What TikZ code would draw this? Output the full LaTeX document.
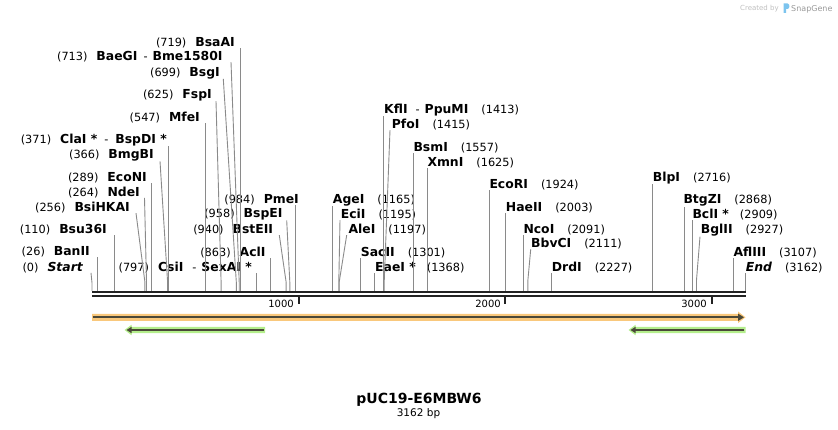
\documentclass[tikz,border=0pt]{standalone}
\usepackage{fontspec}
\setmainfont{DejaVu Sans}
\usetikzlibrary{arrows.meta}
\definecolor{cutgray}{HTML}{8A8A8A}
\definecolor{seqblack}{HTML}{222222}
\definecolor{featorange}{HTML}{F9C87C}
\definecolor{featgreen}{HTML}{B4EE8C}
\definecolor{featcore}{HTML}{4A4838}
\definecolor{snapblue}{HTML}{7CC4EE}
\newcommand{\ename}[1]{{\fontsize{12.4}{14}\selectfont\bfseries #1}}

\begin{document}
\begin{tikzpicture}[x=1pt, y=-1pt,
  site/.style={inner sep=0pt, font=\fontsize{11.3}{13}\selectfont},
  leftsite/.style={site, anchor=base east},
  rightsite/.style={site, anchor=base west},
  cutline/.style={draw=cutgray, line width=0.9pt},
  ruler/.style={inner sep=0pt, anchor=base east, font=\fontsize{10}{12}\selectfont}]
\useasboundingbox (0,0) rectangle (838,430);

% watermark
\path (740,10.3) node[anchor=base west, inner sep=0pt, text=black!25, font=\fontsize{7}{8}\selectfont] (createdby) {Created by};
\fill[snapblue] (783.5,3.5) -- (787.5,3.5) .. controls (790,3.5) and (790,9) .. (787.5,9) -- (786,9) -- (786,13) -- (783.5,13) -- cycle;
\path (791,11.2) node[anchor=base west, inner sep=0pt, text=black!40, font=\fontsize{8}{9}\selectfont] (snapgene) {SnapGene};

% sequence
\draw[seqblack, line width=2.3pt] (92,292.2) -- (745.5,292.2);
\draw[seqblack, line width=2.3pt] (92,296.3) -- (745.5,296.3);
\draw[seqblack, line width=2pt] (298.5,297.5) -- (298.5,304.5);
\draw[seqblack, line width=2pt] (505.2,297.5) -- (505.2,304.5);
\draw[seqblack, line width=2pt] (711.7,297.5) -- (711.7,304.5);
\path (294,307.3) node[ruler] (tick1000) {1000};
\path (501,307.3) node[ruler] (tick2000) {2000};
\path (707,307.3) node[ruler] (tick3000) {3000};

% cut sites
\coordinate (Startcut) at (92,291);
\coordinate (BanIIcut) at (97.4,291);
\coordinate (Bsu36Icut) at (114.7,291);
\coordinate (BsiHKAIcut) at (144.9,291);
\coordinate (NdeIcut) at (146.5,291);
\coordinate (EcoNIcut) at (151.7,291);
\coordinate (BmgBIcut) at (167.6,291);
\coordinate (ClaIcut) at (168.6,291);
\coordinate (MfeIcut) at (205,291);
\coordinate (FspIcut) at (221.1,291);
\coordinate (BsgIcut) at (236.3,291);
\coordinate (BaeGIcut) at (239.2,291);
\coordinate (BsaAIcut) at (240.5,291);
\coordinate (CsiIcut) at (256.6,291);
\coordinate (AclIcut) at (270.2,291);
\coordinate (BstEIIcut) at (286.1,291);
\coordinate (BspEIcut) at (289.8,291);
\coordinate (PmeIcut) at (295.2,291);
\coordinate (AgeIcut) at (332.6,291);
\coordinate (EciIcut) at (338.8,291);
\coordinate (AleIcut) at (339.2,291);
\coordinate (SacIIcut) at (360.7,291);
\coordinate (EaeIcut) at (374.5,291);
\coordinate (KflIcut) at (383.8,291);
\coordinate (PfoIcut) at (384.2,291);
\coordinate (BsmIcut) at (413.5,291);
\coordinate (XmnIcut) at (427.6,291);
\coordinate (EcoRIcut) at (489.3,291);
\coordinate (HaeIIcut) at (505.6,291);
\coordinate (NcoIcut) at (523.8,291);
\coordinate (BbvCIcut) at (527.9,291);
\coordinate (DrdIcut) at (551.9,291);
\coordinate (BlpIcut) at (652.9,291);
\coordinate (BtgZIcut) at (684.3,291);
\coordinate (BclIcut) at (692.7,291);
\coordinate (BglIIcut) at (696.5,291);
\coordinate (AflIIIcut) at (733.6,291);
\coordinate (Endcut) at (745,291);

% labels left of the line
\path (83,271.1) node[leftsite] (Start) {(0)\hspace{9pt}\ename{\itshape Start}};
\path (90,255.4) node[leftsite] (BanII) {(26)\hspace{9pt}\ename{BanII}};
\path (107,233.4) node[leftsite] (Bsu36I) {(110)\hspace{9pt}\ename{Bsu36I}};
\path (130,211.4) node[leftsite] (BsiHKAI) {(256)\hspace{9pt}\ename{BsiHKAI}};
\path (140,196.1) node[leftsite] (NdeI) {(264)\hspace{9pt}\ename{NdeI}};
\path (147,181.1) node[leftsite] (EcoNI) {(289)\hspace{9pt}\ename{EcoNI}};
\path (154,158.4) node[leftsite] (BmgBI) {(366)\hspace{9pt}\ename{BmgBI}};
\path (167,143.4) node[leftsite] (ClaI) {(371)\hspace{9pt}\ename{ClaI *}\hspace{7pt}-\hspace{7pt}\ename{BspDI *}};
\path (200,121.7) node[leftsite] (MfeI) {(547)\hspace{9pt}\ename{MfeI}};
\path (212,98.4) node[leftsite] (FspI) {(625)\hspace{9pt}\ename{FspI}};
\path (220,76.1) node[leftsite] (BsgI) {(699)\hspace{9pt}\ename{BsgI}};
\path (222.7,60.4) node[leftsite] (BaeGI) {(713)\hspace{9pt}\ename{BaeGI}\hspace{6pt}-\hspace{5pt}\ename{Bme1580I}};
\path (235,46.7) node[leftsite] (BsaAI) {(719)\hspace{9pt}\ename{BsaAI}};
\path (252,271.1) node[leftsite] (CsiI) {(797)\hspace{9pt}\ename{CsiI}\hspace{9pt}-\hspace{5pt}\ename{SexAI *}};
\path (265.7,256.1) node[leftsite] (AclI) {(863)\hspace{9pt}\ename{AclI}};
\path (273.3,233.4) node[leftsite] (BstEII) {(940)\hspace{9pt}\ename{BstEII}};
\path (282.7,217.7) node[leftsite] (BspEI) {(958)\hspace{9pt}\ename{BspEI}};
\path (299,203.4) node[leftsite] (PmeI) {(984)\hspace{9pt}\ename{PmeI}};

% labels right of the line
\path (332.7,203.4) node[rightsite] (AgeI) {\ename{AgeI}\hspace{13pt}(1165)};
\path (340.7,218.4) node[rightsite] (EciI) {\ename{EciI}\hspace{13pt}(1195)};
\path (348.3,233.4) node[rightsite] (AleI) {\ename{AleI}\hspace{13pt}(1197)};
\path (360.7,256.4) node[rightsite] (SacII) {\ename{SacII}\hspace{13pt}(1301)};
\path (375,271.1) node[rightsite] (EaeI) {\ename{EaeI *}\hspace{11pt}(1368)};
\path (384,113.4) node[rightsite] (KflI) {\ename{KflI}\hspace{8pt}-\hspace{5pt}\ename{PpuMI}\hspace{13pt}(1413)};
\path (391.7,128.4) node[rightsite] (PfoI) {\ename{PfoI}\hspace{13pt}(1415)};
\path (413.3,151.1) node[rightsite] (BsmI) {\ename{BsmI}\hspace{13pt}(1557)};
\path (427.3,166.1) node[rightsite] (XmnI) {\ename{XmnI}\hspace{13pt}(1625)};
\path (489.3,188.4) node[rightsite] (EcoRI) {\ename{EcoRI}\hspace{13pt}(1924)};
\path (505.7,211.1) node[rightsite] (HaeII) {\ename{HaeII}\hspace{13pt}(2003)};
\path (523.3,233.7) node[rightsite] (NcoI) {\ename{NcoI}\hspace{13pt}(2091)};
\path (531,247.7) node[rightsite] (BbvCI) {\ename{BbvCI}\hspace{13pt}(2111)};
\path (551.7,271.7) node[rightsite] (DrdI) {\ename{DrdI}\hspace{13pt}(2227)};
\path (652.7,181.1) node[rightsite] (BlpI) {\ename{BlpI}\hspace{13pt}(2716)};
\path (683.3,203.7) node[rightsite] (BtgZI) {\ename{BtgZI}\hspace{13pt}(2868)};
\path (692.3,218.4) node[rightsite] (BclI) {\ename{BclI *}\hspace{11pt}(2909)};
\path (700.7,233.7) node[rightsite] (BglII) {\ename{BglII}\hspace{13pt}(2927)};
\path (733.3,256.1) node[rightsite] (AflIII) {\ename{AflIII}\hspace{13pt}(3107)};
\path (745.7,271.1) node[rightsite] (End) {\ename{\itshape End}\hspace{13pt}(3162)};

% lines from the sites to the labels
\draw[cutline] (Startcut) -- ++(0,-8) -- ([xshift=8pt]Start.south east);
\draw[cutline] (BanIIcut) -- (BanIIcut |- BanII.south);
\draw[cutline] (Bsu36Icut) -- (Bsu36Icut |- Bsu36I.south);
\draw[cutline] (BsiHKAIcut) -- ++(0,-9) -- ([xshift=6pt]BsiHKAI.south east);
\draw[cutline] (NdeIcut) -- ++(0,-9) -- ([xshift=4.5pt]NdeI.south east);
\draw[cutline] (EcoNIcut) -- (EcoNIcut |- EcoNI.south);
\draw[cutline] (BmgBIcut) -- ++(0,-9) -- ([xshift=6pt]BmgBI.south east);
\draw[cutline] (ClaIcut) -- (ClaIcut |- ClaI.south);
\draw[cutline] (MfeIcut) -- (MfeIcut |- MfeI.south);
\draw[cutline] (FspIcut) -- ++(0,-9) -- ([xshift=4pt]FspI.south east);
\draw[cutline] (BsgIcut) -- ++(0,-9) -- ([xshift=3.3pt]BsgI.south east);
\draw[cutline] (BaeGIcut) -- ++(0,-9) -- ([xshift=8.3pt]BaeGI.south east);
\draw[cutline] (BsaAIcut) -- (BsaAIcut |- BsaAI.south);
\draw[cutline] (CsiIcut) -- (CsiIcut |- CsiI.south);
\draw[cutline] (AclIcut) -- (AclIcut |- AclI.south);
\draw[cutline] (BstEIIcut) -- ++(0,-9) -- ([xshift=6pt]BstEII.south east);
\draw[cutline] (BspEIcut) -- ++(0,-9) -- ([xshift=4pt]BspEI.south east);
\draw[cutline] (PmeIcut) -- (PmeIcut |- PmeI.south);
\draw[cutline] (AgeIcut) -- (AgeIcut |- AgeI.south);
\draw[cutline] (EciIcut) -- ++(0,-9) -- ([xshift=-0.7pt]EciI.south west);
\draw[cutline] (AleIcut) -- ++(0,-9) -- ([xshift=-1.6pt]AleI.south west);
\draw[cutline] (SacIIcut) -- (SacIIcut |- SacII.south);
\draw[cutline] (EaeIcut) -- (EaeIcut |- EaeI.south);
\draw[cutline] (KflIcut) -- (KflIcut |- KflI.south);
\draw[cutline] (PfoIcut) -- ++(0,-9) -- ([xshift=-1.7pt]PfoI.south west);
\draw[cutline] (BsmIcut) -- (BsmIcut |- BsmI.south);
\draw[cutline] (XmnIcut) -- (XmnIcut |- XmnI.south);
\draw[cutline] (EcoRIcut) -- (EcoRIcut |- EcoRI.south);
\draw[cutline] (HaeIIcut) -- (HaeIIcut |- HaeII.south);
\draw[cutline] (NcoIcut) -- (NcoIcut |- NcoI.south);
\draw[cutline] (BbvCIcut) -- ++(0,-11) -- ([xshift=-0.3pt]BbvCI.south west);
\draw[cutline] (DrdIcut) -- (DrdIcut |- DrdI.south);
\draw[cutline] (BlpIcut) -- (BlpIcut |- BlpI.south);
\draw[cutline] (BtgZIcut) -- (BtgZIcut |- BtgZI.south);
\draw[cutline] (BclIcut) -- (BclIcut |- BclI.south);
\draw[cutline] (BglIIcut) -- ++(0,-11) -- ([xshift=-0.7pt]BglII.south west);
\draw[cutline] (AflIIIcut) -- (AflIIIcut |- AflIII.south);
\draw[cutline] (Endcut) -- (Endcut |- End.south);

% features
\fill[featorange] (92,313.8) -- (738,313.8) -- (738,311.5) -- (745.5,317.3) -- (738,323.1) -- (738,320.8) -- (92,320.8) -- cycle;
\draw[featcore, line width=1.8pt, -{Triangle[length=6pt,width=7pt]}] (92.5,317.3) -- (744,317.3);
\fill[featgreen] (265,326.9) -- (131.5,326.9) -- (131.5,324.8) -- (124.5,330) -- (131.5,335.2) -- (131.5,333.1) -- (265,333.1) -- cycle;
\draw[featcore, line width=1.6pt, -{Triangle[length=5pt,width=6pt]}] (263.5,330) -- (126.5,330);
\fill[featgreen] (745.5,326.9) -- (635.5,326.9) -- (635.5,324.8) -- (628.5,330) -- (635.5,335.2) -- (635.5,333.1) -- (745.5,333.1) -- cycle;
\draw[featcore, line width=1.6pt, -{Triangle[length=5pt,width=6pt]}] (744,330) -- (630.5,330);

% title
\path (419,399.5) node[font=\fontsize{14}{16}\selectfont\bfseries] (title) {pUC19-E6MBW6};
\path (418.5,413.5) node[font=\fontsize{10.5}{12}\selectfont] (length) {3162 bp};
\end{tikzpicture}
\end{document}
